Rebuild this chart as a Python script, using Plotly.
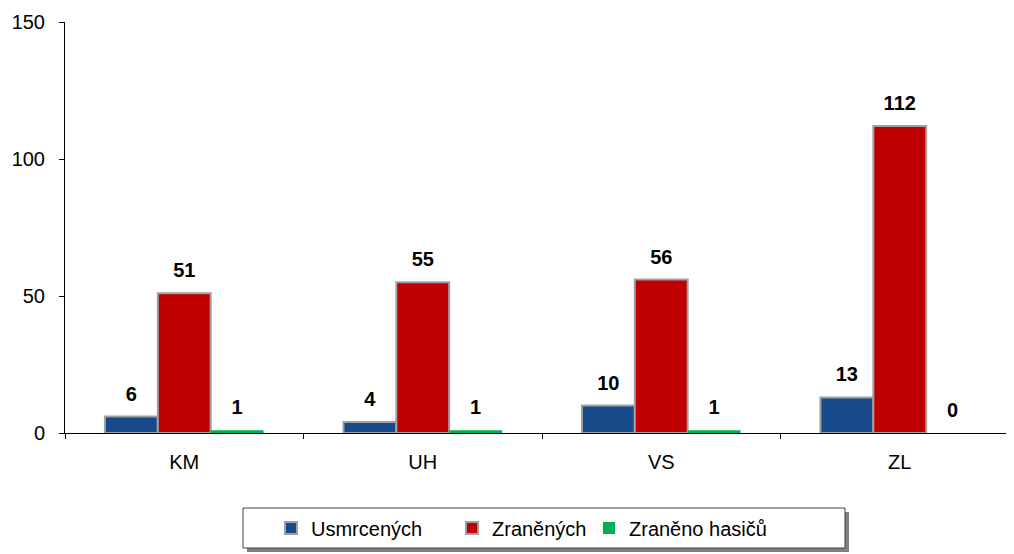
import plotly.graph_objects as go

categories = ["KM", "UH", "VS", "ZL"]
usmrcenych = [6, 4, 10, 13]
zranenych = [51, 55, 56, 112]
zraneno_hasicu = [1, 1, 1, 0]
y_ticks = [0, 50, 100, 150]

# The page body adds an 8px offset
OFF = 8
# plot area in page pixels: x 65..1019, y 22..433
PX0, PX1, PY0, PY1 = 65, 1019, 22, 433
W, H = PX1 - OFF, 554 - OFF
ML, MR, MT, MB = PX0 - OFF, OFF + W - PX1, PY0 - OFF, OFF + H - PY1

pw = PX1 - PX0
ph = PY1 - PY0
def px_x(p):
    return (p - PX0) / pw
def px_y(p):
    return (PY1 - p) / ph

fig = go.Figure()
series = [
    ("Usmrcených", usmrcenych, "#174A8B", "#A0A0A0", 2, "legend", 271, "g1"),
    ("Zraněných", zranenych, "#C00000", "#A0A0A0", 2, "legend2", 452, "g2"),
    ("Zraněno hasičů", zraneno_hasicu, "#00B050", "#00B050", 0, "legend3", 589, "g3"),
]
legend_layout = {}
for name, vals, color, lc, lw, lg, lx, og in series:
    fig.add_trace(go.Bar(
        x=categories, y=vals, name=name, legend=lg,
        offsetgroup=og, alignmentgroup="all",
        marker=dict(color=color, line=dict(color=lc, width=lw)),
    ))
    legend_layout[lg] = dict(
        orientation="h", xref="paper", yref="paper",
        x=px_x(lx), y=px_y(528), xanchor="left", yanchor="middle",
        bgcolor="rgba(0,0,0,0)", borderwidth=0,
        font=dict(family="Arial", size=20, color="black"),
        itemwidth=30,
    )
for name, vals, color, lc, lw, lg, lx, og in series:
    fig.add_trace(go.Scatter(
        x=categories, y=vals, mode="markers+text", showlegend=False,
        offsetgroup=og, alignmentgroup="all",
        marker=dict(size=16, opacity=0),
        text=[str(v) for v in vals], textposition="top center",
        textfont=dict(family="Arial", size=20, color="black", weight="bold"),
        cliponaxis=False, hoverinfo="skip",
    ))

# legend shadow and box
fig.add_shape(type="rect", xref="paper", yref="paper",
              x0=px_x(247), x1=px_x(849), y0=px_y(552), y1=px_y(512),
              fillcolor="#808080", line=dict(width=0), layer="above")
fig.add_shape(type="rect", xref="paper", yref="paper",
              x0=px_x(243), x1=px_x(845), y0=px_y(548), y1=px_y(508),
              fillcolor="white", line=dict(color="#404040", width=1), layer="above")

fig.update_layout(
    width=W, height=H,
    margin=dict(l=ML, r=MR, t=MT, b=MB, autoexpand=False),
    paper_bgcolor="white", plot_bgcolor="white",
    barmode="group", bargap=0.335, bargroupgap=0,
    scattermode="group", scattergap=0.335,
    font=dict(family="Arial", size=20, color="black"),
    showlegend=True,
    xaxis=dict(
        showline=True, linecolor="black", linewidth=1,
        ticks="outside", tickson="boundaries", ticklen=5, tickcolor="black",
        showgrid=False, tickfont=dict(size=20), ticklabelstandoff=11,
    ),
    yaxis=dict(
        range=[0, 150], tickvals=y_ticks,
        showline=True, linecolor="black", linewidth=1,
        ticks="outside", ticklen=5, tickcolor="black",
        showgrid=False, zeroline=False, tickfont=dict(size=20),
        ticklabelstandoff=10,
    ),
    **legend_layout,
)

fig.write_html("out.html")
